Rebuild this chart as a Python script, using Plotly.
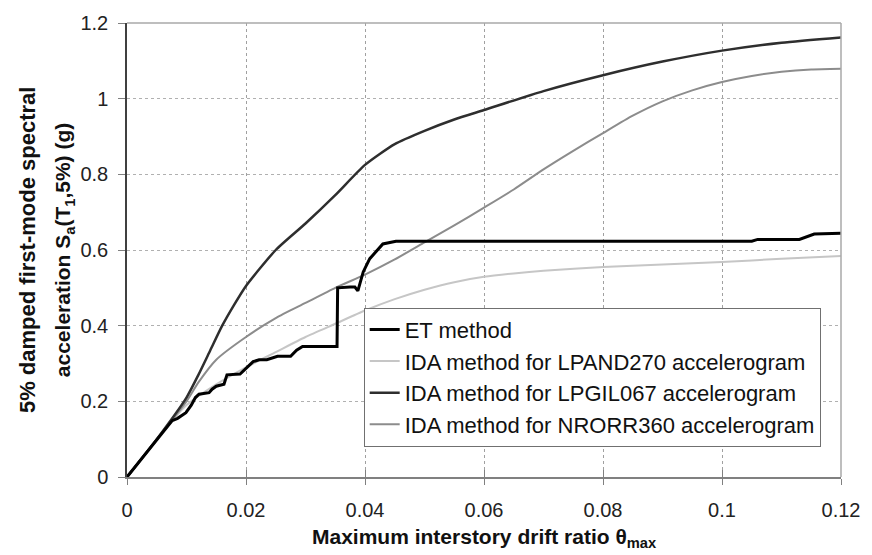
import plotly.graph_objects as go

# ---------------- data ----------------
et_x = [0, 0.003, 0.006, 0.0076, 0.0085, 0.0099, 0.0108, 0.0115, 0.0121, 0.0138, 0.0143, 0.015,
        0.0163, 0.0168, 0.019, 0.0198, 0.0212, 0.0222, 0.0235, 0.0253, 0.0275, 0.0285, 0.0295,
        0.0353, 0.0354, 0.0375, 0.0383, 0.0388, 0.0397, 0.0408, 0.043, 0.0452, 0.047, 0.105,
        0.106, 0.113, 0.1155, 0.12]
et_y = [0, 0.06, 0.12, 0.149, 0.155, 0.17, 0.19, 0.21, 0.219, 0.223, 0.232, 0.24,
        0.245, 0.27, 0.272, 0.285, 0.305, 0.31, 0.31, 0.319, 0.319, 0.335, 0.345,
        0.345, 0.5, 0.502, 0.502, 0.492, 0.542, 0.577, 0.616, 0.623, 0.623, 0.623,
        0.628, 0.628, 0.642, 0.644]

lpand_x = [0, 0.005, 0.01, 0.015, 0.02, 0.025, 0.03, 0.035, 0.04, 0.045, 0.05, 0.055, 0.06,
           0.065, 0.07, 0.08, 0.09, 0.1, 0.11, 0.12]
lpand_y = [0, 0.1, 0.19, 0.245, 0.29, 0.33, 0.37, 0.405, 0.44, 0.47, 0.495, 0.515, 0.529,
           0.538, 0.545, 0.555, 0.562, 0.568, 0.577, 0.584]

lpgil_x = [0, 0.005, 0.01, 0.012, 0.014, 0.016, 0.018, 0.02, 0.025, 0.03, 0.035, 0.04, 0.045,
           0.05, 0.055, 0.06, 0.07, 0.08, 0.09, 0.1, 0.11, 0.12]
lpgil_y = [0, 0.1, 0.21, 0.27, 0.335, 0.4, 0.455, 0.505, 0.6, 0.67, 0.745, 0.825, 0.88,
           0.915, 0.945, 0.97, 1.02, 1.062, 1.098, 1.127, 1.148, 1.162]

nrorr_x = [0, 0.005, 0.01, 0.012, 0.015, 0.02, 0.025, 0.03, 0.035, 0.04, 0.045, 0.05, 0.055,
           0.06, 0.065, 0.07, 0.075, 0.08, 0.085, 0.09, 0.095, 0.1, 0.105, 0.11, 0.115, 0.12]
nrorr_y = [0, 0.1, 0.2, 0.25, 0.31, 0.37, 0.42, 0.46, 0.5, 0.535, 0.575, 0.62, 0.665,
           0.712, 0.76, 0.813, 0.862, 0.909, 0.955, 0.993, 1.022, 1.044, 1.06, 1.071, 1.077, 1.079]

x_ticks = [0, 0.02, 0.04, 0.06, 0.08, 0.1, 0.12]
x_labels = ["0", "0.02", "0.04", "0.06", "0.08", "0.1", "0.12"]
y_ticks = [0, 0.2, 0.4, 0.6, 0.8, 1.0, 1.2]
y_labels = ["0", "0.2", "0.4", "0.6", "0.8", "1", "1.2"]

names = ["ET method",
         "IDA method for LPAND270 accelerogram",
         "IDA method for LPGIL067 accelerogram",
         "IDA method for NRORR360 accelerogram"]

FONT = "Liberation Sans, Arial, sans-serif"

fig = go.Figure()
fig.add_trace(go.Scatter(x=lpand_x, y=lpand_y, mode="lines", name=names[1],
                         line=dict(color="#c6c6c6", width=2, shape="spline", smoothing=0.6),
                         legendrank=2))
fig.add_trace(go.Scatter(x=nrorr_x, y=nrorr_y, mode="lines", name=names[3],
                         line=dict(color="#8c8c8c", width=2, shape="spline", smoothing=0.6),
                         legendrank=4))
fig.add_trace(go.Scatter(x=lpgil_x, y=lpgil_y, mode="lines", name=names[2],
                         line=dict(color="#2e2e2e", width=2.5, shape="spline", smoothing=0.6),
                         legendrank=3))
fig.add_trace(go.Scatter(x=et_x, y=et_y, mode="lines", name=names[0],
                         line=dict(color="#000000", width=3),
                         legendrank=1))
# invisible helper trace so the overlay axis (inner half of the crossing tick marks) is drawn
fig.add_trace(go.Scatter(x=lpand_x, y=lpand_y, mode="lines", xaxis="x2", yaxis="y",
                         line=dict(width=0), opacity=0, showlegend=False, hoverinfo="skip"))

fig.update_layout(
    width=872, height=555,
    margin=dict(l=127, r=22, t=18, b=78),
    paper_bgcolor="white", plot_bgcolor="white",
    font=dict(family=FONT, size=20, color="#222222"),
    showlegend=True,
    legend=dict(x=0.3315, y=0.373, xanchor="left", yanchor="top",
                bgcolor="white", bordercolor="#707070", borderwidth=1,
                font=dict(family=FONT, size=22, color="#111111"),
                tracegroupgap=0, itemwidth=30,
                traceorder="normal"),
    xaxis=dict(range=[0, 0.12], tickvals=x_ticks, ticktext=x_labels,
               showgrid=True, gridcolor="#a0a0a0", griddash="3px,3px", gridwidth=1,
               zeroline=False, showline=True, linecolor="#808080", linewidth=1.5,
               ticks="outside", ticklen=6, tickcolor="#808080", tickwidth=1,
               ticklabelstandoff=8,
               tickfont=dict(size=20, color="#222222"), fixedrange=True),
    xaxis2=dict(range=[0, 0.12], tickvals=x_ticks, overlaying="x", anchor="y", side="bottom",
                showticklabels=False, showgrid=False, zeroline=False, showline=False,
                ticks="inside", ticklen=7, tickcolor="#808080", tickwidth=1, fixedrange=True),
    yaxis=dict(range=[0, 1.2], tickvals=y_ticks, ticktext=y_labels,
               showgrid=True, gridcolor="#b0b0b0", griddash="3px,3px", gridwidth=1,
               zeroline=False, showline=True, linecolor="#404040", linewidth=1.5,
               ticks="outside", ticklen=7, tickcolor="#808080", tickwidth=1,
               ticklabelstandoff=6,
               tickfont=dict(size=20, color="#222222"), fixedrange=True),
    shapes=[
        dict(type="line", xref="paper", yref="paper", x0=0, x1=1, y0=1, y1=1,
             line=dict(color="#a8a8a8", width=1.5)),
        dict(type="line", xref="paper", yref="paper", x0=1, x1=1, y0=0, y1=1,
             line=dict(color="#a8a8a8", width=1.5)),
    ],
    annotations=[
        dict(text="<b>Maximum interstory drift ratio θ<sub>max</sub></b>",
             xref="paper", yref="paper", x=0.5, y=-0.135, xanchor="center", yanchor="middle",
             showarrow=False, font=dict(family=FONT, size=21, color="#111111")),
        dict(text="<b>5% damped first-mode spectral</b>",
             xref="paper", yref="paper", x=-0.14, y=0.5, xanchor="center", yanchor="middle",
             textangle=-90, showarrow=False, font=dict(family=FONT, size=22, color="#111111")),
        dict(text="<b>acceleration S<sub>a</sub>(T<sub>1</sub>,5%) (g)</b>",
             xref="paper", yref="paper", x=-0.088, y=0.5, xanchor="center", yanchor="middle",
             textangle=-90, showarrow=False, font=dict(family=FONT, size=21, color="#111111")),
    ],
)

fig.write_html("out.html")
